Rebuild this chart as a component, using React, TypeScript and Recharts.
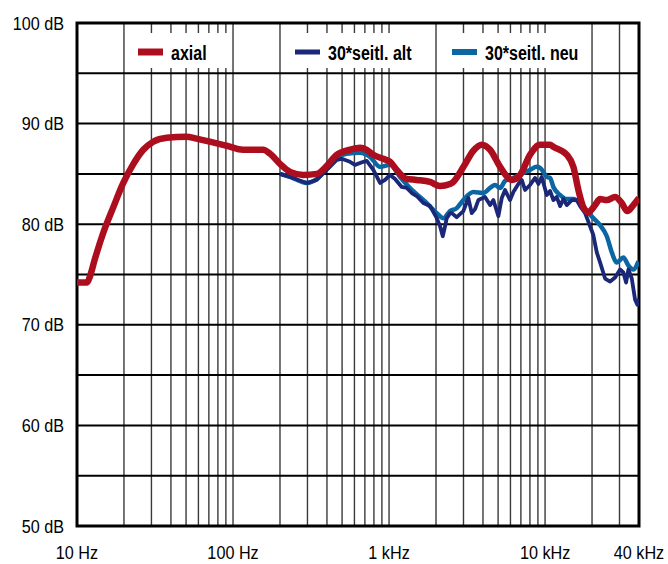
import React from 'react';
import { LineChart, Line, XAxis, YAxis, CartesianGrid, ReferenceArea, Legend } from 'recharts';

const axial: [number, number][] = [
  [10, 74.2], [11.6, 74.2], [12.1, 74.8], [13, 76.5], [14.7, 79.1], [17.1, 81.7], [19.8, 84.1], [23, 86.0],
  [26.6, 87.4], [30.8, 88.2], [37.6, 88.6], [50, 88.7], [58.5, 88.5], [71, 88.2], [91, 87.8], [116, 87.4],
  [156, 87.4], [173, 87.0], [200, 86.0], [232, 85.2], [282, 84.9], [344, 85.0], [399, 85.8], [462, 86.9],
  [562, 87.4], [652, 87.6], [719, 87.4], [793, 86.9], [919, 86.5], [1015, 86.2], [1120, 85.4], [1300, 84.5],
  [1500, 84.4], [1830, 84.2], [2120, 83.8], [2460, 84.0], [2580, 84.2], [3000, 85.7], [3470, 87.3], [3930, 87.9],
  [4440, 87.4], [5150, 85.7], [6120, 84.4], [6920, 84.9], [8010, 86.9], [9290, 87.9], [10770, 87.9], [11300, 87.7],
  [13780, 86.9], [15190, 85.7], [16350, 83.4], [17600, 81.7], [18950, 81.2], [20920, 81.9], [22520, 82.5],
  [24860, 82.4], [28100, 82.7], [31010, 82.1], [33700, 81.3], [36810, 81.9], [40000, 82.6],
];

const seitlAlt: [number, number][] = [
  [200, 85.0], [232, 84.7], [297, 84.1], [344, 84.4], [399, 85.4], [462, 86.4], [498, 86.5], [562, 86.2],
  [605, 85.9], [685, 86.2], [720, 86.3], [793, 85.4], [876, 84.1], [943, 84.4], [1015, 84.9], [1093, 84.5],
  [1206, 83.7], [1299, 83.6], [1398, 83.1], [1505, 82.8], [1659, 82.1], [1832, 81.8], [2022, 80.6], [2123, 79.8],
  [2209, 78.8], [2286, 79.8], [2344, 80.6], [2460, 81.1], [2523, 81.1], [2716, 80.7], [2994, 81.3], [3224, 82.6],
  [3389, 81.1], [3559, 81.5], [3736, 82.4], [4125, 82.7], [4441, 81.9], [4663, 82.4], [5020, 80.8], [5277, 82.6],
  [5541, 83.4], [5966, 82.4], [6264, 83.2], [6743, 84.0], [7089, 84.4], [7445, 83.4], [8013, 83.9], [8629, 84.6],
  [9061, 84.0], [9524, 84.7], [10254, 82.9], [10767, 83.3], [11304, 82.4], [11885, 82.7], [12483, 81.8],
  [13106, 82.5], [13776, 81.9], [14833, 82.4], [15967, 82.4], [16765, 81.8], [18049, 81.1], [19433, 79.8],
  [20403, 78.9], [21454, 77.2], [22521, 76.2], [24246, 74.6], [26108, 74.3], [28105, 74.7], [30253, 75.5],
  [31765, 75.2], [33063, 74.2], [34194, 75.5], [35954, 74.6], [37746, 72.5], [39054, 72.0], [40000, 72.6],
];

const seitlNeu: [number, number][] = [
  [200, 85.0], [232, 84.7], [297, 84.1], [344, 84.5], [399, 85.6], [462, 86.6], [535, 87.0], [652, 87.1],
  [755, 86.7], [876, 85.7], [1015, 85.9], [1176, 84.7], [1363, 83.6], [1745, 82.1], [2022, 81.1], [2229, 80.6],
  [2460, 81.3], [2716, 81.6], [2994, 82.4], [3471, 83.2], [4022, 83.1], [4441, 83.6], [4782, 83.9], [5146, 83.6],
  [5541, 84.3], [6264, 84.6], [7260, 85.1], [8013, 85.4], [8849, 85.7], [9288, 85.6], [9752, 85.2], [10254, 84.7],
  [10767, 84.6], [11304, 83.7], [12483, 82.9], [13776, 82.5], [15186, 82.5], [16765, 82.1], [18508, 81.3],
  [20403, 80.6], [22521, 79.9], [24862, 78.8], [26771, 77.2], [28818, 76.2], [31765, 76.7], [34194, 75.9],
  [36813, 75.5], [39636, 76.3],
];

const xGridTicks = [
  10, 20, 30, 40, 50, 60, 70, 80, 90,
  100, 200, 300, 400, 500, 600, 700, 800, 900,
  1000, 2000, 3000, 4000, 5000, 6000, 7000, 8000, 9000,
  10000, 20000, 30000, 40000,
];
const xLabels: Record<number, string> = { 10: '10 Hz', 100: '100 Hz', 1000: '1 kHz', 10000: '10 kHz', 40000: '40 kHz' };
const yTicks = [50, 55, 60, 65, 70, 75, 80, 85, 90, 95, 100];
const yLabel = (v: number) => (v % 10 === 0 ? `${v} dB` : '');

const legendItems = [
  { name: 'axial', color: '#ad0e1e', boxL: 130, boxR: 229, sw: 138, thick: 7 },
  { name: '30*seitl. alt', color: '#1b2777', boxL: 287, boxR: 426, sw: 295, thick: 5 },
  { name: '30*seitl. neu', color: '#0b66a3', boxL: 444, boxR: 590, sw: 452, thick: 6 },
];

const toRows = (arr: [number, number][]) => arr.map(([f, db]) => ({ f, db }));

const FONT = 'Liberation Sans, Arial, Helvetica, sans-serif';

const renderXTick = (props: any) => {
  const { x, payload } = props;
  const label = xLabels[payload.value];
  if (!label) return <g />;
  return (
    <g transform={`translate(${x},559) scale(0.9,1)`}>
      <text x={0} y={0} textAnchor="middle" fontSize={18} fontFamily={FONT} fill="#000">{label}</text>
    </g>
  );
};

const renderYTick = (props: any) => {
  const { y, payload } = props;
  const label = yLabel(payload.value);
  if (!label) return <g />;
  return (
    <g transform={`translate(64,${y + 6.5}) scale(0.9,1)`}>
      <text x={0} y={0} textAnchor="end" fontSize={18} fontFamily={FONT} fill="#000">{label}</text>
    </g>
  );
};

const LegendContent = () => (
  <svg width={668} height={80} style={{ display: 'block' }}>
    {legendItems.map((it) => (
      <g key={it.name}>
        <rect x={it.boxL} y={33} width={it.boxR - it.boxL} height={35} fill="#fff" />
        <line x1={it.sw} x2={it.sw + 25} y1={52} y2={52} stroke={it.color} strokeWidth={it.thick} />
        <g transform={`translate(${it.sw + 33},60) scale(0.8,1)`}>
          <text x={0} y={0} fontSize={20} fontWeight="bold" fontFamily={FONT} fill="#000">{it.name}</text>
        </g>
      </g>
    ))}
  </svg>
);

export default function App() {
  return (
    <div style={{ position: 'absolute', left: 0, top: 0, width: 668, height: 564, background: '#fff' }}>
      <LineChart width={668} height={564} margin={{ top: 23, right: 29, bottom: 8, left: 17 }}>
        <XAxis
          dataKey="f"
          type="number"
          scale="log"
          domain={[10, 40000]}
          ticks={xGridTicks}
          interval={0}
          allowDataOverflow
          axisLine={false}
          tickLine={false}
          height={30}
          tick={renderXTick}
        />
        <YAxis
          type="number"
          domain={[50, 100]}
          ticks={yTicks}
          interval={0}
          allowDataOverflow
          axisLine={false}
          tickLine={false}
          width={60}
          tick={renderYTick}
        />
        <CartesianGrid horizontal={false} vertical stroke="#3a3a3a" strokeWidth={1.4} />
        <CartesianGrid horizontal vertical={false} stroke="#000" strokeWidth={2} />
        <Line
          data={toRows(seitlNeu)}
          dataKey="db"
          name="30*seitl. neu"
          type="monotone"
          stroke="#0b66a3"
          strokeWidth={4.5}
          dot={false}
          isAnimationActive={false}
        />
        <Line
          data={toRows(seitlAlt)}
          dataKey="db"
          name="30*seitl. alt"
          type="linear"
          stroke="#1b2777"
          strokeWidth={3.8}
          strokeLinejoin="round"
          dot={false}
          isAnimationActive={false}
        />
        <Line
          data={toRows(axial)}
          dataKey="db"
          name="axial"
          type="monotone"
          stroke="#ad0e1e"
          strokeWidth={6.5}
          dot={false}
          isAnimationActive={false}
        />
        <ReferenceArea x1={10} x2={40000} y1={50} y2={100} fill="none" stroke="#000" strokeWidth={3} ifOverflow="visible" />
        <Legend
          layout="horizontal"
          verticalAlign="middle"
          align="center"
          content={<LegendContent />}
          wrapperStyle={{ left: 0, top: 0, width: 668, height: 80, margin: 0, padding: 0 }}
        />
      </LineChart>
    </div>
  );
}
